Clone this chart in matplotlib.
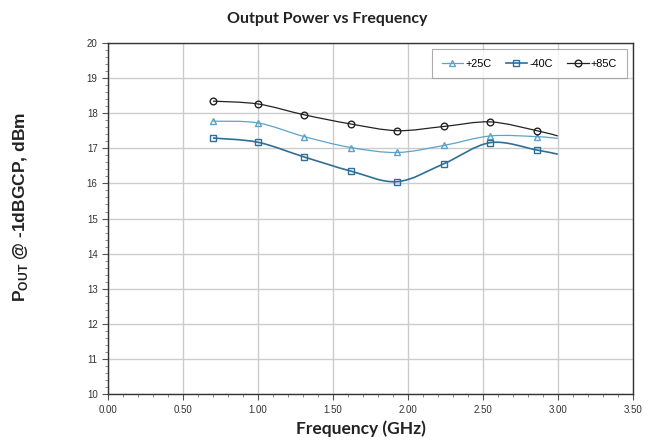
import numpy as np
import matplotlib
matplotlib.use("Agg")
import matplotlib.pyplot as plt
from matplotlib.path import Path
from matplotlib.patches import PathPatch
from matplotlib.ticker import MultipleLocator, FormatStrFormatter

# data (last point at 3.0 GHz has no marker)
freq = [0.70, 1.00, 1.31, 1.62, 1.93, 2.24, 2.55, 2.86, 3.00]
p_25c = [17.77, 17.72, 17.33, 17.02, 16.88, 17.08, 17.35, 17.33, 17.28]
p_m40c = [17.29, 17.17, 16.75, 16.35, 16.05, 16.56, 17.16, 16.95, 16.83]
p_85c = [18.34, 18.26, 17.95, 17.69, 17.50, 17.62, 17.75, 17.50, 17.35]
labels = ["+25C", "-40C", "+85C"]
n_marked = 8


def smooth_path(x, y, t=1 / 6):
    # bezier control points like a spreadsheet "smoothed line"
    x = np.asarray(x); y = np.asarray(y)
    verts = [(x[0], y[0])]
    codes = [Path.MOVETO]
    n = len(x)
    for i in range(n - 1):
        i0 = max(i - 1, 0); i3 = min(i + 2, n - 1)
        c1 = (x[i] + (x[i + 1] - x[i0]) * t, y[i] + (y[i + 1] - y[i0]) * t)
        c2 = (x[i + 1] - (x[i3] - x[i]) * t, y[i + 1] - (y[i3] - y[i]) * t)
        verts += [c1, c2, (x[i + 1], y[i + 1])]
        codes += [Path.CURVE4] * 3
    return Path(verts, codes)


fig = plt.figure(figsize=(6.55, 4.46), dpi=100)
ax = fig.add_axes([0.165, 0.116, 0.801, 0.788])

series = [
    (p_25c, "#5ba3c9", "^", 0.9),
    (p_m40c, "#2f6f95", "s", 1.2),
    (p_85c, "#222222", "o", 0.9),
]
for (vals, col, mk, lw), lab in zip(series, labels):
    ax.add_patch(PathPatch(smooth_path(freq, vals), facecolor="none",
                           edgecolor=col, lw=lw, zorder=3))
    ax.plot(freq[:n_marked], vals[:n_marked], linestyle="none", marker=mk,
            markersize=4.8, markerfacecolor="none", markeredgecolor=col,
            markeredgewidth=1.0, zorder=4)
    # legend proxy
    ax.plot([], [], color=col, lw=lw, marker=mk, markersize=4.8,
            markerfacecolor="none", markeredgecolor=col, label=lab)

ax.set_xlim(0, 3.5)
ax.set_ylim(10, 20)
ax.xaxis.set_major_locator(MultipleLocator(0.5))
ax.xaxis.set_minor_locator(MultipleLocator(0.1))
ax.yaxis.set_major_locator(MultipleLocator(1))
ax.yaxis.set_minor_locator(MultipleLocator(0.2))
ax.xaxis.set_major_formatter(FormatStrFormatter("%.2f"))
ax.grid(True, which="major", color="#cccccc", lw=1.0, zorder=0)
ax.set_axisbelow(True)
ax.tick_params(which="major", direction="out", length=4, width=0.8,
               color="#555555", labelsize=7, labelcolor="#333333")
ax.tick_params(which="minor", direction="out", length=2, width=0.6,
               color="#777777")
for tl in ax.get_xticklabels() + ax.get_yticklabels():
    tl.set_family("Liberation Sans")
for s in ax.spines.values():
    s.set_color("#333333")
    s.set_linewidth(1.0)

leg = ax.legend(loc="upper right", ncol=3, frameon=True,
                fancybox=False, edgecolor="#999999", borderpad=0.9,
                borderaxespad=0, handlelength=2.0, handletextpad=0.2,
                columnspacing=1.3, bbox_to_anchor=(0.9886, 0.983),
                prop={"family": "Liberation Sans", "size": 7.8})
leg.get_frame().set_linewidth(0.8)
leg.set_zorder(5)

fig.text(0.5, 0.957, "Output Power vs Frequency", ha="center", va="center",
         fontsize=11.5, fontweight="bold", family="Lato", color="#222222")
ax.set_xlabel("Frequency (GHz)", fontsize=12.5, fontweight="bold", family="Lato",
              color="#222222")
ax.xaxis.set_label_coords(0.482, -0.075)
ax.set_ylabel(r"P$_{\mathregular{OUT}}$ @ -1dBGCP, dBm", fontsize=12.5,
              fontweight="bold", family="Liberation Sans", color="#222222")
ax.yaxis.set_label_coords(-0.149, 0.533)

fig.savefig("out.png", dpi=100)
